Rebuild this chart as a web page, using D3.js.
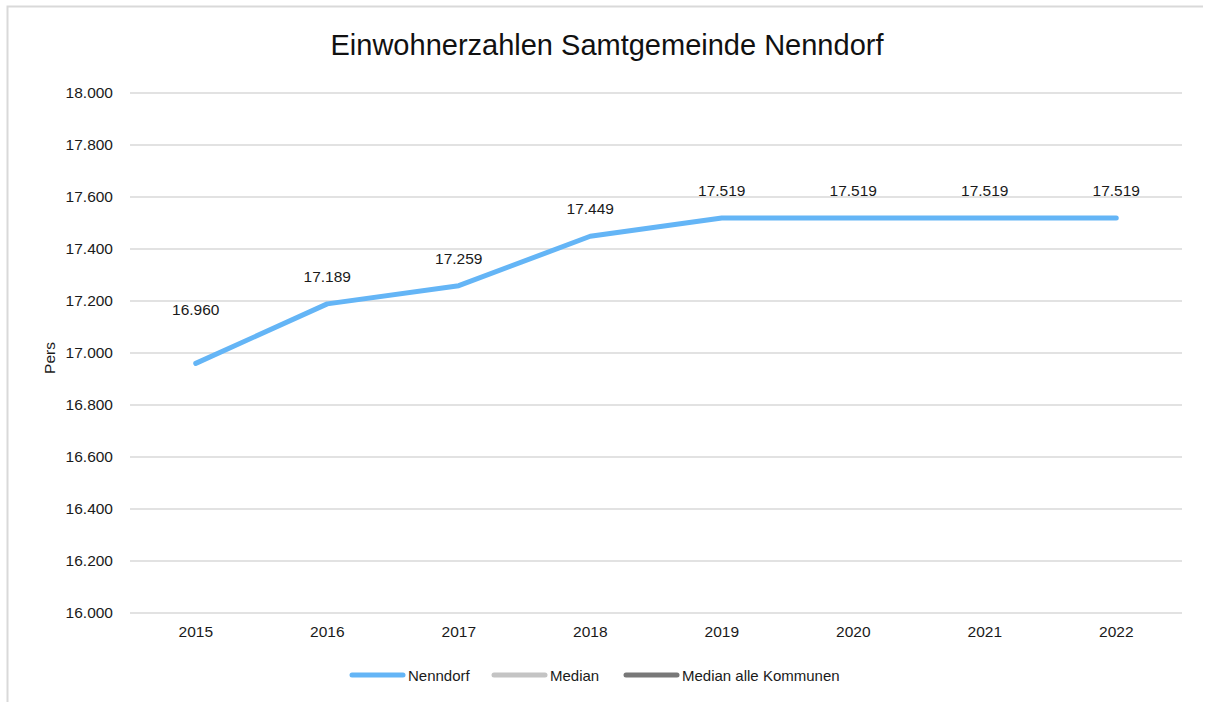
<!DOCTYPE html>
<html>
<head>
<meta charset="utf-8">
<script src="https://cdn.jsdelivr.net/npm/d3@7"></script>
<style>
  body { margin: 0; background: #fff; }
  text { font-family: "Liberation Sans", Arial, sans-serif; }
</style>
</head>
<body>
<svg id="chart"></svg>
<script>
const years = ["2015", "2016", "2017", "2018", "2019", "2020", "2021", "2022"];
const nenndorf = [16960, 17189, 17259, 17449, 17519, 17519, 17519, 17519];
const yTicks = [16000, 16200, 16400, 16600, 16800, 17000, 17200, 17400, 17600, 17800, 18000];
const legendItems = ["Nenndorf", "Median", "Median alle Kommunen"];
const legendColors = ["#64b5f6", "#c4c4c4", "#787878"];

const width = 1206;
const height = 702;
const margin = { top: 93, right: 24, bottom: 89, left: 130 };
const fs = 15.5;

const svg = d3.select("#chart").attr("width", width).attr("height", height);

// frame
svg.append("path")
  .attr("d", `M7.5,${height} V6.5 H1203`)
  .attr("fill", "none")
  .attr("stroke", "#d9d9d9")
  .attr("stroke-width", 2);

const fmt = (v) => d3.format(",.0f")(v).replace(/,/g, ".");

const x = d3.scaleBand()
  .domain(years)
  .range([margin.left, width - margin.right]);

const y = d3.scaleLinear()
  .domain([16000, 18000])
  .range([height - margin.bottom, margin.top]);

// grid
svg.append("g")
  .selectAll("line")
  .data(yTicks)
  .join("line")
  .attr("x1", margin.left)
  .attr("x2", width - margin.right)
  .attr("y1", (d) => y(d))
  .attr("y2", (d) => y(d))
  .attr("stroke", "#d9d9d9")
  .attr("stroke-width", 1.3);

const yAxis = (g) =>
  g.attr("transform", `translate(${margin.left - 14},0)`)
    .call(d3.axisLeft(y).tickValues(yTicks).tickFormat(fmt).tickSize(0))
    .call((g) => g.select(".domain").remove())
    .call((g) => g.selectAll("text")
      .attr("font-size", fs)
      .attr("fill", "#1a1a1a")
      .style("font-family", "'Liberation Sans', Arial, sans-serif"));

const xAxis = (g) =>
  g.attr("transform", `translate(0,${height - margin.bottom + 10})`)
    .call(d3.axisBottom(x).tickSize(0))
    .call((g) => g.select(".domain").remove())
    .call((g) => g.selectAll("text")
      .attr("font-size", fs)
      .attr("fill", "#1a1a1a")
      .style("font-family", "'Liberation Sans', Arial, sans-serif"));

svg.append("g").call(yAxis);
svg.append("g").call(xAxis);

// line
const cx = (i) => x(years[i]) + x.bandwidth() / 2;
const line = d3.line()
  .x((d, i) => cx(i))
  .y((d) => y(d));

svg.append("path")
  .datum(nenndorf)
  .attr("fill", "none")
  .attr("stroke", legendColors[0])
  .attr("stroke-width", 5)
  .attr("stroke-linejoin", "round")
  .attr("stroke-linecap", "round")
  .attr("d", line);

// data labels (first one sits higher, like the original)
svg.append("g")
  .selectAll("text")
  .data(nenndorf)
  .join("text")
  .attr("x", (d, i) => cx(i))
  .attr("y", (d, i) => y(d) - (i === 0 ? 48 : 22))
  .attr("text-anchor", "middle")
  .attr("font-size", fs)
  .attr("fill", "#1a1a1a")
  .text(fmt);

// title
svg.append("text")
  .attr("x", 607)
  .attr("y", 55)
  .attr("text-anchor", "middle")
  .attr("font-size", 29)
  .attr("fill", "#111")
  .text("Einwohnerzahlen Samtgemeinde Nenndorf");

// y label
svg.append("text")
  .attr("transform", `translate(55,358) rotate(-90)`)
  .attr("text-anchor", "middle")
  .attr("font-size", fs)
  .attr("fill", "#1a1a1a")
  .text("Pers");

// legend
const legendX = [352, 494, 626];
const lg = svg.append("g")
  .selectAll("g")
  .data(legendItems)
  .join("g")
  .attr("transform", (d, i) => `translate(${legendX[i]},675)`);

lg.append("line")
  .attr("x1", 0)
  .attr("x2", 51)
  .attr("stroke", (d, i) => legendColors[i])
  .attr("stroke-width", 5)
  .attr("stroke-linecap", "round");

lg.append("text")
  .attr("x", 56)
  .attr("y", 5.5)
  .attr("font-size", 15)
  .attr("fill", "#1a1a1a")
  .text((d) => d);
</script>
</body>
</html>
